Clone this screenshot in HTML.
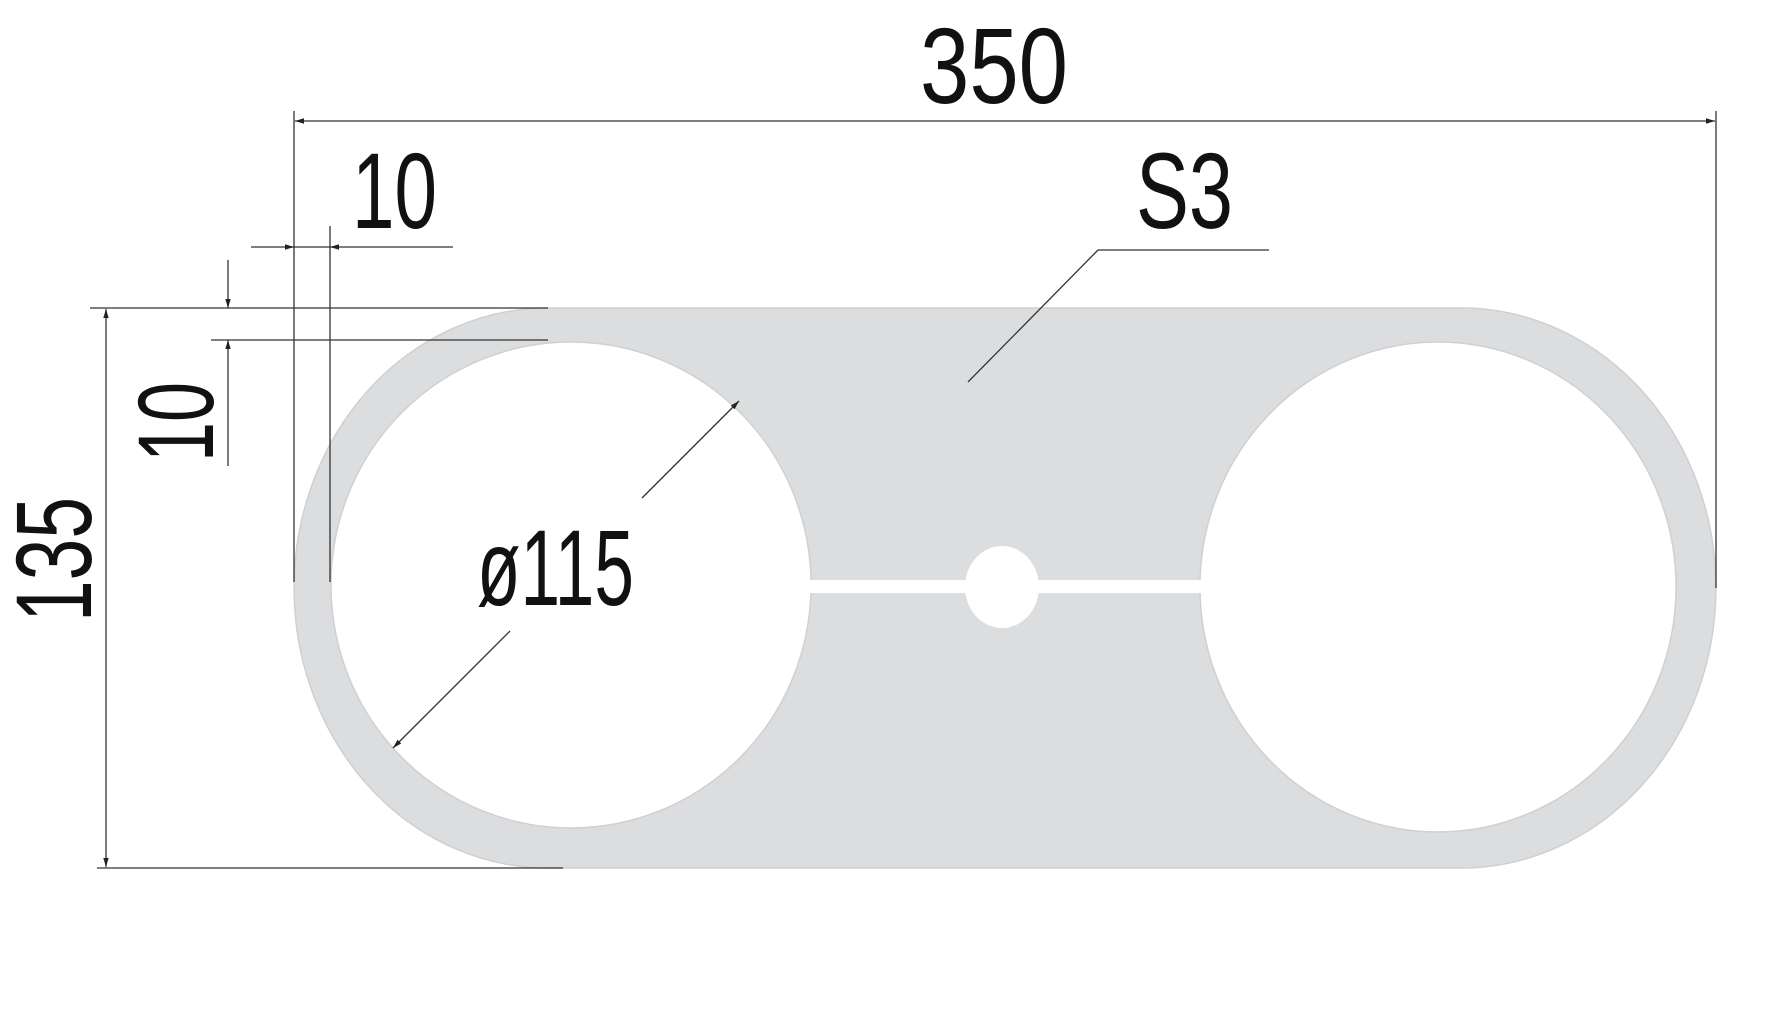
<!DOCTYPE html>
<html><head><meta charset="utf-8"><style>
html,body{margin:0;padding:0;background:#fff;}
svg{display:block;}
text{font-family:"Liberation Sans Narrow","Liberation Sans",sans-serif;fill:#111;}
</style></head><body>
<svg width="1790" height="1032" viewBox="0 0 1790 1032" xmlns="http://www.w3.org/2000/svg">
<defs>
<marker id="a" viewBox="0 0 10 10" refX="10" refY="5" markerWidth="9" markerHeight="9" orient="auto-start-reverse" markerUnits="userSpaceOnUse">
<path d="M0,2 L10,5 L0,8 z" fill="#222"/></marker>
</defs>
<!-- plate -->
<path fill-rule="evenodd" fill="#dcdddf" stroke="#cfd0d2" stroke-width="1.5" d="
M548,308 L1461,308 A255,280 0 0 1 1461,868 L548,868 A254,280 0 0 1 548,308 Z
M571,342 A240,243 0 1 0 571,828 A240,243 0 1 0 571,342 Z
M1438,342 A238,245 0 1 0 1438,832 A238,245 0 1 0 1438,342 Z"/>
<!-- slot -->
<rect x="800" y="580" width="405" height="13" fill="#fff"/>
<ellipse cx="1002" cy="587" rx="37" ry="41" fill="#fff"/>
<g stroke="#333" stroke-width="1.3" fill="none">
<!-- 350 -->
<line x1="294" y1="111" x2="294" y2="582"/>
<line x1="1716" y1="111" x2="1716" y2="588"/>
<line x1="295" y1="121" x2="1715" y2="121" marker-start="url(#a)" marker-end="url(#a)"/>
<!-- 10 horizontal -->
<line x1="330" y1="226" x2="330" y2="582"/>
<line x1="251" y1="247" x2="294" y2="247" marker-end="url(#a)"/>
<line x1="294" y1="247" x2="330" y2="247"/>
<line x1="453" y1="247" x2="330" y2="247" marker-end="url(#a)"/>
<!-- 10 vertical -->
<line x1="90" y1="308" x2="548" y2="308"/>
<line x1="211" y1="340" x2="548" y2="340"/>
<line x1="228" y1="260" x2="228" y2="308" marker-end="url(#a)"/>
<line x1="228" y1="466" x2="228" y2="340" marker-end="url(#a)"/>
<!-- 135 -->
<line x1="106" y1="309" x2="106" y2="867" marker-start="url(#a)" marker-end="url(#a)"/>
<line x1="97" y1="868" x2="563" y2="868"/>
<!-- S3 leader -->
<line x1="1098" y1="250" x2="1269" y2="250"/>
<line x1="1098" y1="250" x2="968" y2="382"/>
<!-- dia -->
<line x1="510" y1="631" x2="393" y2="748" marker-end="url(#a)"/>
<line x1="642" y1="498" x2="739" y2="401" marker-end="url(#a)"/>
</g>
<text x="920" y="103" font-size="108" textLength="148" lengthAdjust="spacingAndGlyphs">350</text>
<text x="352" y="228" font-size="108" textLength="85" lengthAdjust="spacingAndGlyphs">10</text>
<text x="1136" y="228" font-size="108" textLength="97" lengthAdjust="spacingAndGlyphs">S3</text>
<text x="477" y="605" font-size="108" textLength="157" lengthAdjust="spacingAndGlyphs">ø115</text>
<text transform="translate(213,462) rotate(-90)" font-size="108" textLength="80" lengthAdjust="spacingAndGlyphs">10</text>
<text transform="translate(91,622) rotate(-90)" font-size="108" textLength="125" lengthAdjust="spacingAndGlyphs">135</text>
</svg>
</body></html>
